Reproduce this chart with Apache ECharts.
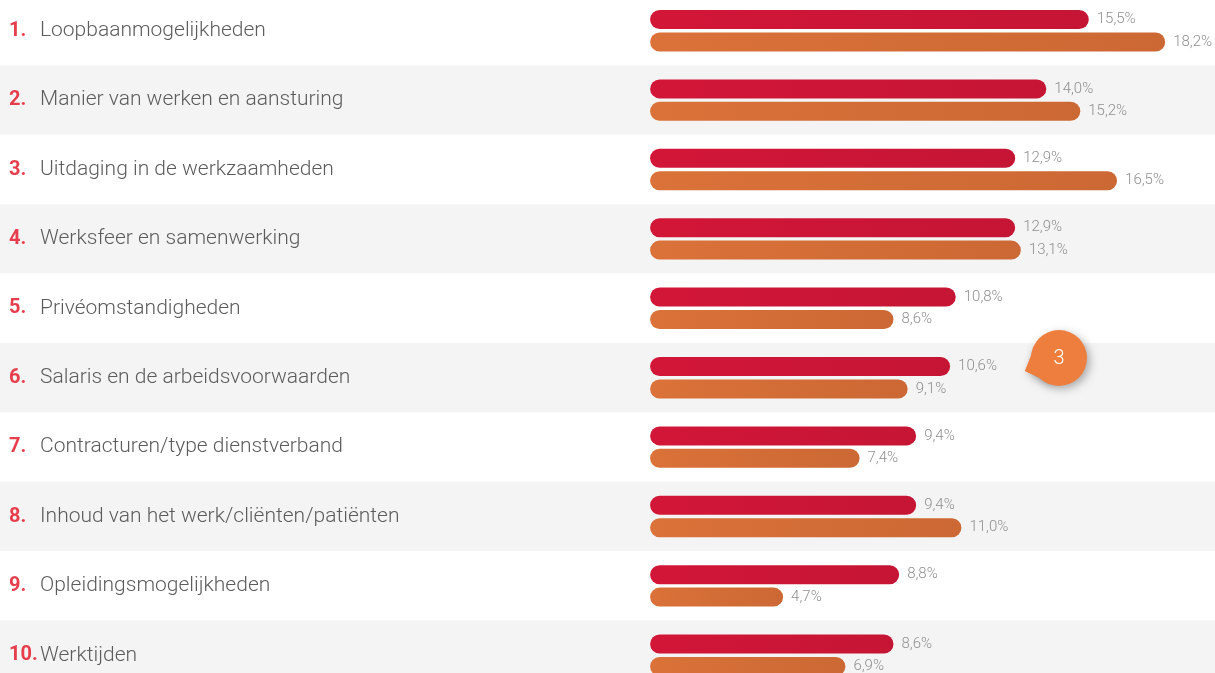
<!DOCTYPE html>
<html>
<head>
<meta charset="utf-8">
<script src="https://cdn.jsdelivr.net/npm/echarts@6/dist/echarts.min.js"></script>
<style>
  html, body { margin: 0; padding: 0; background: #fff; }
  #chart { width: 1215px; height: 673px; }
</style>
</head>
<body>
<div id="chart"></div>
<script>
var ranks = ['1.', '2.', '3.', '4.', '5.', '6.', '7.', '8.', '9.', '10.'];
var categories = [
    'Loopbaanmogelijkheden',
    'Manier van werken en aansturing',
    'Uitdaging in de werkzaamheden',
    'Werksfeer en samenwerking',
    'Privéomstandigheden',
    'Salaris en de arbeidsvoorwaarden',
    'Contracturen/type dienstverband',
    'Inhoud van het werk/cliënten/patiënten',
    'Opleidingsmogelijkheden',
    'Werktijden'
];
var redValues = [15.5, 14.0, 12.9, 12.9, 10.8, 10.6, 9.4, 9.4, 8.8, 8.6];
var orangeValues = [18.2, 15.2, 16.5, 13.1, 8.6, 9.1, 7.4, 11.0, 4.7, 6.9];

function pct(p) {
    return p.value.toFixed(1).replace('.', ',') + '%';
}

var chart = echarts.init(document.getElementById('chart'));
var option = {
    animation: false,
    textStyle: { fontFamily: 'Roboto' },
    grid: { left: 0, right: 0, top: -4, height: 694, outerBoundsMode: 'none', containLabel: false },
    xAxis: {
        type: 'value',
        min: -22.97,
        max: 19.96,
        show: false
    },
    yAxis: {
        type: 'category',
        inverse: true,
        data: categories,
        axisLine: { show: false },
        axisTick: { show: false },
        splitArea: { show: true, areaStyle: { color: ['#ffffff', '#f4f4f4'] } },
        axisLabel: {
            inside: true,
            margin: 9,
            formatter: function (val, idx) {
                return '{n|' + ranks[idx] + '}{t|' + val + '}';
            },
            rich: {
                n: { color: '#e63e4d', fontWeight: 'bold', fontSize: 20, width: 31, fontFamily: 'Roboto' },
                t: { color: '#5c5c5c', fontSize: 21, fontWeight: 300, fontFamily: 'Roboto' }
            }
        }
    },
    series: [
        {
            name: 'rood',
            type: 'bar',
            data: redValues,
            barWidth: 19,
            barGap: '18%',
            itemStyle: {
                borderRadius: 10,
                color: new echarts.graphic.LinearGradient(0, 0, 1, 1, [
                    { offset: 0, color: '#d21638' },
                    { offset: 1, color: '#c51535' }
                ])
            },
            label: {
                show: true, position: 'right', distance: 8,
                color: '#8f8f8f', fontSize: 15, fontWeight: 300, formatter: pct
            }
        },
        {
            name: 'oranje',
            type: 'bar',
            data: orangeValues,
            barWidth: 19,
            itemStyle: {
                borderRadius: 10,
                color: new echarts.graphic.LinearGradient(0, 0, 1, 1, [
                    { offset: 0, color: '#da7239' },
                    { offset: 1, color: '#cc6834' }
                ])
            },
            label: {
                show: true, position: 'right', distance: 8,
                color: '#8f8f8f', fontSize: 15, fontWeight: 300, formatter: pct
            }
        }
    ],
    graphic: [
        {
            type: 'group',
            x: 1059, y: 358,
            z: 100,
            children: [
                {
                    type: 'polygon',
                    z: 100,
                    shape: { points: [[-24, -12], [-34, 13], [-8, 25]] },
                    style: { fill: '#ee7e3d', shadowBlur: 8, shadowColor: 'rgba(0,0,0,0.3)', shadowOffsetX: 3, shadowOffsetY: 3 }
                },
                {
                    type: 'circle',
                    z: 100,
                    shape: { cx: 0, cy: 0, r: 28 },
                    style: { fill: '#ee7e3d', shadowBlur: 8, shadowColor: 'rgba(0,0,0,0.3)', shadowOffsetX: 3, shadowOffsetY: 3 }
                },
                {
                    type: 'polygon',
                    z: 101,
                    shape: { points: [[-24, -12], [-34, 13], [-8, 25]] },
                    style: { fill: '#ee7e3d' }
                },
                {
                    type: 'text',
                    z: 102,
                    style: { text: '3', x: 0, y: 1, align: 'center', verticalAlign: 'middle', fill: '#ffffff', fontSize: 20, fontFamily: 'Roboto', fontWeight: 300 }
                }
            ]
        }
    ]
};
chart.setOption(option);
window.onresize = chart.resize;
</script>
</body>
</html>
